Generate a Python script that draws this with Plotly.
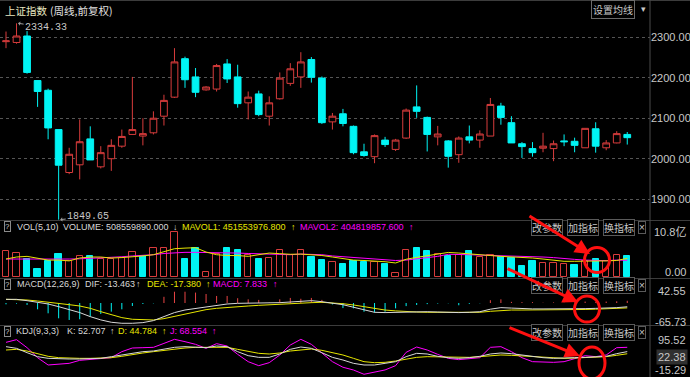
import plotly.graph_objects as go

W, H = 690, 377

# ---------------- data ----------------
idx = list(range(60))
open_ = [2289, 2287, 2303, 2193, 2169, 2072, 1966, 1985, 2049, 1980,
         2000, 2031, 2060, 2056, 2064, 2105, 2152, 2247, 2202, 2170,
         2172, 2234, 2202, 2138, 2160, 2105, 2148, 2186, 2202, 2245,
         2199, 2091, 2111, 2080, 2017, 2005, 2046, 2023, 2051, 2128,
         2102, 2054, 2044, 2010, 2054, 2046, 2056, 2130, 2089, 2037,
         2025, 2026, 2025, 2044, 2043, 2027, 2074, 2027, 2039, 2060]
high = [2314, 2334.33, 2315, 2193, 2173, 2072, 2027, 2097, 2080, 2031,
        2048, 2072, 2202, 2100, 2117, 2158, 2273, 2252, 2224, 2179,
        2234, 2246, 2232, 2166, 2168, 2154, 2213, 2236, 2263, 2251,
        2203, 2113, 2123, 2082, 2037, 2060, 2054, 2049, 2124, 2181,
        2104, 2081, 2046, 2055, 2082, 2070, 2150, 2138, 2105, 2041,
        2041, 2064, 2045, 2060, 2052, 2075, 2090, 2046, 2068, 2066]
low = [2273, 2284, 2210, 2128, 2048, 1849.65, 1962, 1949, 1997, 1976,
       1970, 2027, 2060, 2033, 2060, 2082, 2150, 2175, 2152, 2168,
       2166, 2187, 2126, 2097, 2105, 2082, 2146, 2180, 2175, 2188,
       2086, 2072, 2080, 2011, 2005, 1989, 2029, 2019, 2049, 2101,
       2018, 2033, 1978, 1990, 2038, 2027, 2056, 2084, 2039, 2002,
       2005, 2016, 1994, 2031, 2016, 2027, 2015, 2021, 2038, 2035]
close = [2291, 2303, 2213, 2166, 2076, 1984, 2011, 2042, 1997, 2015,
         2033, 2055, 2072, 2062, 2100, 2144, 2239, 2195, 2164, 2177,
         2230, 2197, 2136, 2152, 2109, 2138, 2199, 2222, 2239, 2201,
         2089, 2105, 2087, 2015, 2008, 2057, 2035, 2046, 2120, 2117,
         2060, 2061, 2006, 2051, 2046, 2061, 2134, 2102, 2039, 2030,
         2015, 2031, 2037, 2042, 2033, 2075, 2031, 2039, 2062, 2052]

volume_yi = [6.22, 5.81, 4.36, 1.94, 3.80, 5.64, 3.80, 5.16, 5.01, 4.36,
             4.36, 4.60, 6.05, 5.01, 7.02, 7.02, 10.8, 4.36, 7.02, 1.14,
             5.64, 7.02, 6.46, 5.40, 4.36, 4.60, 6.46, 5.40, 6.61, 4.84,
             4.19, 3.63, 3.15, 3.95, 3.56, 3.56, 3.15, 0.97, 6.61, 7.02,
             6.22, 5.57, 5.01, 5.40, 6.22, 4.84, 5.40, 4.77, 4.60, 2.59,
             3.80, 3.39, 3.39, 3.22, 2.98, 3.80, 4.36, 3.80, 5.40, 5.0856]
mavol1_yi = [4.35, 4.84, 5.0, 4.5, 4.1, 4.1, 3.9, 4.6, 4.84, 4.84,
             4.6, 4.7, 4.84, 5.1, 5.4, 6.05, 6.85, 7.0, 7.1, 6.05,
             5.4, 5.2, 5.2, 5.0, 5.4, 5.8, 5.65, 5.5, 5.55, 5.4,
             5.2, 4.84, 4.4, 4.1, 4.0, 3.9, 3.7, 3.4, 4.3, 4.75,
             5.2, 5.65, 5.95, 5.8, 5.65, 5.4, 5.2, 5.0, 4.9, 4.75,
             4.6, 4.35, 4.0, 3.8, 3.8, 3.8, 3.8, 3.9, 4.0, 4.5155]
mavol2_yi = [4.35, 4.35, 4.35, 4.35, 4.27, 4.2, 4.35, 4.4, 4.5, 4.7,
             4.84, 4.9, 5.1, 5.2, 5.4, 5.7, 5.9, 5.97, 5.97, 5.97,
             5.97, 5.9, 5.8, 5.7, 5.65, 5.55, 5.5, 5.4, 5.55, 5.5,
             5.4, 5.1, 4.9, 4.7, 4.6, 4.4, 4.27, 4.0, 4.1, 4.4,
             4.6, 5.0, 5.5, 5.5, 5.4, 5.3, 5.25, 5.15, 5.1, 5.0,
             4.9, 4.84, 4.7, 4.4, 4.27, 4.1, 3.95, 3.95, 4.1, 4.0482]

dif = [13, 13, 8.3, 2.4, -3.5, -13, -22.4, -34, -48.4, -60,
       -68.4, -72, -72, -69.6, -62.5, -48.4, -34, -24.8, -18.9, -13,
       -8.3, -3.5, -1.2, -1.2, -1.2, -1.2, 1.2, 3.5, 4.7, 8.3,
       4.7, -1.2, -6, -15, -25, -33, -34, -33, -31, -31,
       -31, -32, -34, -34, -33, -31, -22, -16.5, -18, -20,
       -21, -21, -21, -22, -22, -20, -19, -19, -16.5, -13.463]
dea = [13, 12.4, 10.6, 7.1, 3.5, 0, -5.9, -10.6, -18.9, -30.7,
       -42.5, -51.9, -57.8, -60.2, -60.2, -55.5, -47.2, -37.8, -29.5, -23.6,
       -18.9, -15.3, -13, -10.6, -8.3, -5.9, -4.7, -2.4, -1.2, 1.2,
       2.4, 1.2, -2.5, -7, -13, -19, -25, -28, -31, -32,
       -33, -33, -33, -34, -34, -33, -29.5, -26, -25, -25,
       -25, -25, -24.5, -24, -23.6, -23, -22, -21, -19.5, -17.38]
macd_hist = [-4.7, -2.4, -7, -22.4, -36.6, -54.3, -60.2, -57.8, -48.4, -39,
             -30.7, -22.4, -10.6, -3.5, -1.2, 22, 40, 40, 37, 32,
             25, 25, 17, 13, 11, 1, 13, 18, 15, 18,
             11, -5, -18, -19, -31, -34, -31, -19, -11, -7,
             -4, -2, -1, -8, -3, -1, 10, 13, 4, 3,
             3, 1, 2, 1, 2, 5, 3, 5, 6, 7.833]

k_line = [70.9, 64.8, 48.8, 34, 27.9, 25.4, 25.4, 25.4, 25.4, 27.9,
          34, 40.2, 48.8, 52.5, 55, 61.1, 68.5, 70.9, 69.7, 67.2,
          73.4, 70.9, 52.5, 37.7, 31.5, 31.5, 43.9, 61.1, 69.7, 64.8,
          48.8, 31.5, 21.7, 9.4, 3.3, 3.3, 9.4, 15.6, 34, 46.3,
          43.9, 35.3, 30.3, 27.9, 30.3, 35.3, 43.9, 47.6, 45.1, 40.2,
          32.8, 30.3, 27.9, 27.9, 30.3, 31.5, 32.8, 35.3, 45.1, 52.707]
d_line = [58.6, 61.1, 54.9, 43.9, 35.3, 30.3, 27.9, 27.9, 27.9, 27.9,
          30.3, 35.3, 42.6, 47.6, 52.5, 57.4, 63.6, 66, 68.5, 68.5,
          70.9, 68.5, 61.1, 52.5, 46.3, 43.9, 47.6, 54.9, 59.8, 62.3,
          57.4, 48.8, 40.2, 27.9, 15.6, 11.9, 13.1, 18, 25.4, 31.5,
          34, 32.8, 31.5, 30.3, 31.5, 34, 37.7, 40.2, 39, 36.5,
          32.8, 30.3, 29.1, 27.9, 29.1, 30.3, 31.5, 34, 39, 44.784]
j_line = [86.9, 96.8, 67.2, 30.3, 3.3, 5.7, 9.4, 20.5, 24.2, 25.4,
          30.3, 52.5, 66, 67.2, 68.5, 83, 98, 89.4, 79.5, 64.8,
          82, 73.4, 42.6, 15.6, 0.8, 11.9, 40.2, 77, 98, 79.5,
          48.8, 15.6, -5, -15.2, -31, -24, -15, 0.8, 50, 69.7,
          58.6, 42.6, 27.9, 23, 26.6, 30.3, 68.5, 70.9, 52.5, 30.3,
          15.6, 13.1, 13.1, 15.6, 27.9, 37.7, 34, 40.2, 67.2, 68.554]

price_ticks = [1900, 2000, 2100, 2200, 2300]
price_tick_text = ["1900.00", "2000.00", "2100.00", "2200.00", "2300.00"]
vol_labels = [(10.8, "10.8亿"), (0, "0.00")]
macd_labels = [(42.55, "42.55"), (-65.73, "-65.73")]
kdj_labels = [(95.52, "95.52"), (-15.29, "-15.29")]
kdj_cursor = 22.38

# ---------------- styles ----------------
RED = "#d83c3c"
HRED = "#e84444"
CYAN = "#00f4f4"
YEL = "#e6e600"
MAG = "#ff00ff"
WHT = "#d8d8d8"
GRAY = "#c8c8c8"
LINE = "#3c3c3c"
FONT = "Liberation Sans, Noto Sans CJK SC, sans-serif"
CJK = "Noto Sans CJK SC, sans-serif"
HS = 9  # header font size

def py(p):
    return 1 - p / H

def px(p):
    return p / W

XR = [-0.57, 61.16]
XD = [0, 650 / W]

# y-domains (pixel based)
main_dom = [py(220.5), py(20)]
vol_dom = [py(278), py(231)]
macd_dom = [py(325), py(289)]
kdj_dom = [py(377), py(337)]

fig = go.Figure()

# main candles
fig.add_trace(go.Candlestick(
    x=idx, open=open_, high=high, low=low, close=close,
    increasing=dict(line=dict(color=RED, width=1), fillcolor="#000000"),
    decreasing=dict(line=dict(color=CYAN, width=1), fillcolor=CYAN),
    whiskerwidth=0, xaxis="x", yaxis="y", showlegend=False, hoverinfo="skip"))

# volume
vol_up = [True] + [close[i] >= close[i - 1] for i in range(1, len(close))]
fig.add_trace(go.Bar(
    x=idx, y=volume_yi, width=0.6,
    marker=dict(color=["#000000" if u else CYAN for u in vol_up],
                line=dict(color=[RED if u else CYAN for u in vol_up], width=1)),
    xaxis="x2", yaxis="y2", showlegend=False, hoverinfo="skip"))
fig.add_trace(go.Scatter(x=idx, y=mavol2_yi, mode="lines", line=dict(color=MAG, width=1),
                         xaxis="x2", yaxis="y2", showlegend=False, hoverinfo="skip"))
fig.add_trace(go.Scatter(x=idx, y=mavol1_yi, mode="lines", line=dict(color=YEL, width=1),
                         xaxis="x2", yaxis="y2", showlegend=False, hoverinfo="skip"))

# macd histogram as thin stems (segments built from the data arrays)
def stems(sign):
    xs, ys = [], []
    for i, v in zip(idx, macd_hist):
        if (v >= 0) == (sign > 0):
            xs += [i, i, None]
            ys += [0, v, None]
    return xs, ys

for sgn, col in [(1, HRED), (-1, CYAN)]:
    sx, sy = stems(sgn)
    fig.add_trace(go.Scatter(x=sx, y=sy, mode="lines", line=dict(color=col, width=1),
                             connectgaps=False, xaxis="x3", yaxis="y3",
                             showlegend=False, hoverinfo="skip"))
fig.add_trace(go.Scatter(x=idx, y=dea, mode="lines", line=dict(color=YEL, width=1),
                         xaxis="x3", yaxis="y3", showlegend=False, hoverinfo="skip"))
fig.add_trace(go.Scatter(x=idx, y=dif, mode="lines", line=dict(color=WHT, width=1),
                         xaxis="x3", yaxis="y3", showlegend=False, hoverinfo="skip"))

# kdj
fig.add_trace(go.Scatter(x=idx, y=j_line, mode="lines", line=dict(color=MAG, width=1),
                         xaxis="x4", yaxis="y4", showlegend=False, hoverinfo="skip"))
fig.add_trace(go.Scatter(x=idx, y=d_line, mode="lines", line=dict(color=YEL, width=1),
                         xaxis="x4", yaxis="y4", showlegend=False, hoverinfo="skip"))
fig.add_trace(go.Scatter(x=idx, y=k_line, mode="lines", line=dict(color=WHT, width=1),
                         xaxis="x4", yaxis="y4", showlegend=False, hoverinfo="skip"))

xax = dict(range=XR, domain=XD, visible=False, fixedrange=True)
noy = dict(showgrid=False, zeroline=False, showticklabels=False, ticks="", fixedrange=True)

annotations = []

def txt(x, y, s, color, size=HS, anchor="left", family=FONT, **kw):
    kw.setdefault("borderpad", 0)
    annotations.append(dict(xref="paper", yref="paper", x=px(x), y=py(y), text=s,
                            showarrow=False, xanchor=anchor, yanchor="middle",
                            font=dict(color=color, size=size, family=family), **kw))

# title
txt(4, 10, "上证指数", "#e8e8c0", 10.5, family=CJK)
txt(49, 10, "(周线,前复权)", "#e0e0e0", 10.5, family=CJK)
txt(613, 9.5, "设置均线", GRAY, 10, anchor="center", family=CJK,
    bordercolor="#6a6a6a", borderwidth=1, borderpad=1, bgcolor="#000000")
txt(643, 9, "▾", GRAY, 9, anchor="center")

# indicator headers
def qbox(y):
    txt(7.5, y, "?", GRAY, 8, anchor="center", bordercolor="#8a8a8a", borderwidth=1)

def buttons(y):
    for cx, s in [(546.5, "改参数"), (582.5, "加指标"), (618.5, "换指标")]:
        txt(cx, y, s, GRAY, 10, anchor="center", family=CJK,
            bordercolor="#5a5a5a", borderwidth=1, bgcolor="#000000")
    txt(641.5, y, "×", GRAY, 10, anchor="center", bordercolor="#5a5a5a", borderwidth=1)

hy = 226.5
qbox(hy)
txt(16, hy, "VOL(5,10)", WHT)
txt(62, hy, "VOLUME: 508559890.000", WHT)
txt(172, hy, "↓", WHT)
txt(181, hy, "MAVOL1: 451553976.800", YEL)
txt(290, hy, "↑", YEL)
txt(299, hy, "MAVOL2: 404819857.600", MAG)
txt(408, hy, "↑", MAG)
buttons(227)

hy = 284
qbox(hy)
txt(16, hy, "MACD(12,26,9)", WHT)
txt(84, hy, "DIF: -13.463", WHT)
txt(135, hy, "↑", WHT)
txt(146, hy, "DEA: -17.380", YEL)
txt(205, hy, "↑", YEL)
txt(212, hy, "MACD: 7.833", MAG)
txt(272, hy, "↑", MAG)
buttons(285)

hy = 331
qbox(hy)
txt(15, hy, "KDJ(9,3,3)", WHT)
txt(66, hy, "K: 52.707", WHT)
txt(109, hy, "↑", WHT)
txt(117, hy, "D: 44.784", YEL)
txt(161, hy, "↑", YEL)
txt(169, hy, "J: 68.554", MAG)
txt(211, hy, "↑", MAG)
buttons(332)

# right-side labels for indicator panels
def side_label(yref, val, s, yshift=0, **kw):
    annotations.append(dict(xref="paper", yref=yref, x=px(688), y=val, text=s, showarrow=False,
                            xanchor="right", yanchor="middle", yshift=yshift,
                            font=dict(color=GRAY, size=11, family=FONT), **kw))

for v, s in vol_labels:
    side_label("y2", v, s, 5 if v == 0 else 0)
for v, s in macd_labels:
    side_label("y3", v, s)
for v, s in kdj_labels:
    side_label("y4", v, s)
side_label("y4", kdj_cursor, f"{kdj_cursor:.2f}", 2.5, bgcolor="#303030", borderpad=1)

# high / low markers
annotations.append(dict(xref="x", yref="y", x=idx[high.index(max(high))] + 0.15, y=max(high),
                        text=f"{max(high):.2f}", showarrow=True, ax=28, ay=4,
                        arrowcolor="#a0a0a0", arrowwidth=1, arrowhead=1, arrowsize=0.7,
                        font=dict(color=GRAY, size=10, family="Liberation Mono, monospace")))
annotations.append(dict(xref="x", yref="y", x=idx[low.index(min(low))] + 0.15, y=min(low),
                        text=f"{min(low):.2f}", showarrow=True, ax=28, ay=-3,
                        arrowcolor="#a0a0a0", arrowwidth=1, arrowhead=1, arrowsize=0.7,
                        font=dict(color=GRAY, size=10, family="Liberation Mono, monospace")))

# red markup arrows
for (tx, ty, hx, hy2) in [(528, 215, 590, 254), (506, 268, 578, 302), (508, 327, 580, 356)]:
    annotations.append(dict(xref="paper", yref="paper", x=px(hx), y=py(hy2), ax=tx - hx, ay=ty - hy2,
                            text="", showarrow=True, arrowcolor="#ff1010", arrowwidth=3,
                            arrowhead=2, arrowsize=1))

shapes = []
def hline(y, x0=0, x1=W, color=LINE, dash="solid"):
    shapes.append(dict(type="line", xref="paper", yref="paper", x0=px(x0), x1=px(x1),
                       y0=py(y), y1=py(y), line=dict(color=color, width=1, dash=dash)))

hline(0.5)
hline(220.5)
hline(278.5)
hline(325.5)
shapes.append(dict(type="line", xref="paper", yref="paper", x0=px(650), x1=px(650), y0=0, y1=1,
                   line=dict(color="#4a4a4a", width=1)))
for cx, cy, rx, ry in [(597, 260, 12.5, 12.5), (587, 309, 12.5, 13), (592, 363, 13, 16)]:
    shapes.append(dict(type="circle", xref="paper", yref="paper",
                       x0=px(cx - rx), x1=px(cx + rx), y0=py(cy + ry), y1=py(cy - ry),
                       line=dict(color="#ff1010", width=3)))

fig.update_layout(
    width=W, height=H, margin=dict(l=0, r=0, t=0, b=0),
    paper_bgcolor="#000000", plot_bgcolor="#000000",
    showlegend=False, boxgap=0.2, boxgroupgap=0.2, bargap=0,
    xaxis=dict(**xax, anchor="y", rangeslider=dict(visible=False)),
    xaxis2=dict(**xax, anchor="y2"),
    xaxis3=dict(**xax, anchor="y3"),
    xaxis4=dict(**xax, anchor="y4"),
    yaxis=dict(domain=main_dom, range=[1847.5, 2342.5], side="right", anchor="x",
               tickvals=price_ticks, ticktext=price_tick_text, ticks="",
               showgrid=True, gridcolor="#555555", griddash="dot", gridwidth=1,
               zeroline=False, showline=False, fixedrange=True,
               tickfont=dict(color=GRAY, size=11, family=FONT)),
    yaxis2=dict(domain=vol_dom, range=[-0.24, 11.14], anchor="x2", **noy),
    yaxis3=dict(domain=macd_dom, range=[-78.1, 49.7], anchor="x3", **noy),
    yaxis4=dict(domain=kdj_dom, range=[-41.0, 106.6], anchor="x4", **noy),
    annotations=annotations, shapes=shapes,
)

fig.write_html("out.html")
